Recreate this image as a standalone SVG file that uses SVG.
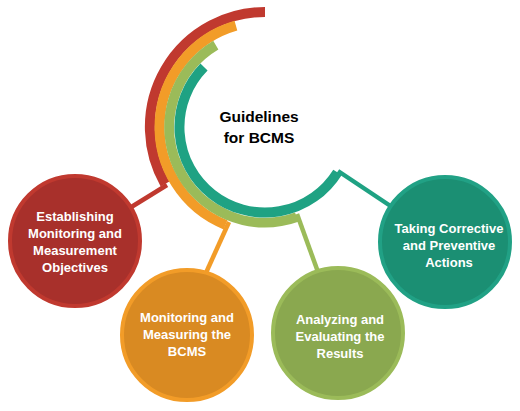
<svg xmlns="http://www.w3.org/2000/svg" width="520" height="411" viewBox="0 0 520 411">
<style>
.arc{fill:none;stroke-width:10;stroke-linecap:butt}
.con{fill:none;stroke-width:4.5;stroke-linecap:butt}
.node circle{stroke-width:4}
.lbl{font-family:"Liberation Sans",Arial,sans-serif;font-weight:bold;font-size:13px;fill:#ffffff;text-anchor:middle}
.title{font-family:"Liberation Sans",Arial,sans-serif;font-weight:bold;font-size:15.5px;fill:#000000;text-anchor:middle}
</style>
<rect width="520" height="411" fill="#ffffff"/>
<g id="connectors">
<line class="con" x1="167" y1="185" x2="120" y2="214" stroke="#C0392F"/>
<line class="con" x1="229" y1="222" x2="205" y2="275" stroke="#F29C28"/>
<line class="con" x1="297" y1="214" x2="318" y2="272" stroke="#9BBB59"/>
<line class="con" x1="338" y1="171" x2="395" y2="209" stroke="#1FA283"/>
</g>
<g id="hub">
<path class="arc" stroke="#C0392F" stroke-width="9.5" d="M265,12 A115,115 0 0 0 165,184"/>
<path class="arc" stroke="#F29C28" d="M235.9,25.6 A105.5,105.5 0 0 0 225.5,224.8"/>
<path class="arc" stroke="#9BBB59" d="M215.8,45.1 A95.5,95.5 0 0 0 296.7,217.1"/>
<path class="arc" stroke="#1FA283" d="M204,67.1 A85.5,85.5 0 1 0 337.5,172.3"/>
<text class="title" x="259" y="122">Guidelines</text>
<text class="title" x="259" y="143">for BCMS</text>
</g>
<g id="node-establishing" class="node">
<circle cx="75" cy="241" r="65" fill="#A8302B" stroke="#C0392F"/>
<text class="lbl" x="75" y="221">Establishing</text>
<text class="lbl" x="75" y="238">Monitoring and</text>
<text class="lbl" x="75" y="255">Measurement</text>
<text class="lbl" x="75" y="272">Objectives</text>
</g>
<g id="node-monitoring" class="node">
<circle cx="187" cy="335" r="65" fill="#D98A22" stroke="#F29C28"/>
<text class="lbl" x="187" y="322">Monitoring and</text>
<text class="lbl" x="187" y="339">Measuring the</text>
<text class="lbl" x="187" y="356">BCMS</text>
</g>
<g id="node-analyzing" class="node">
<circle cx="338" cy="333" r="65" fill="#8AA84F" stroke="#9BBB59"/>
<text class="lbl" x="340" y="324">Analyzing and</text>
<text class="lbl" x="340" y="341">Evaluating the</text>
<text class="lbl" x="340" y="358">Results</text>
</g>
<g id="node-taking" class="node">
<circle cx="445" cy="242" r="65" fill="#1B8F73" stroke="#21A185"/>
<text class="lbl" x="449" y="233">Taking Corrective</text>
<text class="lbl" x="449" y="250">and Preventive</text>
<text class="lbl" x="449" y="267">Actions</text>
</g>
</svg>
